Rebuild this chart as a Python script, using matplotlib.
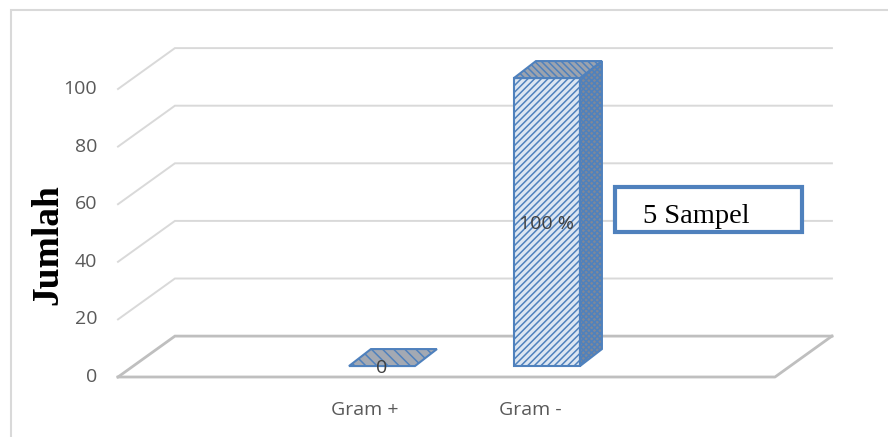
import matplotlib
matplotlib.use("Agg")
import matplotlib.pyplot as plt
from matplotlib.patches import Polygon, Rectangle

# data
categories = ["Gram +", "Gram -"]
values = [0, 100]
value_labels = ["0", "100 %"]
y_ticks = [0, 20, 40, 60, 80, 100]
note = "5 Sampel"

plt.rcParams["hatch.color"] = "#4F81BD"
plt.rcParams["hatch.linewidth"] = 1.1

fig = plt.figure(figsize=(8.88, 4.37), dpi=100)
ax = fig.add_axes([118 / 888, 60 / 437, 657 / 888, 288 / 437])
xmin, xmax = -1.6, 2.382
ax.set_xlim(xmin, xmax)
ax.set_ylim(0, 100)
ax.axis("off")

# fake 3d depth (data units)
wall_dx, wall_dy = 0.345, 14.2
bar_dx, bar_dy = 0.133, 5.9
bar_lift = 3.8
half_w = 0.2

grid_c = "#D9D9D9"
floor_c = "#BFBFBF"
blue = "#4F81BD"
tick_font = dict(fontsize=14, family="Open Sans")

# side wall + back wall gridlines
for v in y_ticks:
    c, lw = (floor_c, 2.0) if v == 0 else (grid_c, 1.4)
    ax.plot([xmin, xmin + wall_dx, xmax + wall_dx], [v, v + wall_dy, v + wall_dy],
            color=c, lw=lw, clip_on=False, zorder=1, solid_joinstyle="miter")
    ax.text(xmin - 0.127, v, str(v), ha="right", va="center", color="#595959",
            **tick_font)

# floor front edge and right side
ax.plot([xmin, xmax, xmax + wall_dx], [0, 0, wall_dy], color=floor_c, lw=2.0,
        clip_on=False, zorder=1)

# bars
for i, v in enumerate(values):
    x0, x1 = i - half_w, i + half_w
    y0, y1 = bar_lift, bar_lift + v
    top = [(x0, y1), (x1, y1), (x1 + bar_dx, y1 + bar_dy), (x0 + bar_dx, y1 + bar_dy)]
    if v > 0:
        front = [(x0, y0), (x1, y0), (x1, y1), (x0, y1)]
        side = [(x1, y0), (x1 + bar_dx, y0 + bar_dy), (x1 + bar_dx, y1 + bar_dy), (x1, y1)]
        ax.add_patch(Polygon(front, closed=True, facecolor="#DCE6F2", edgecolor=blue,
                             hatch="/////", lw=1.5, clip_on=False, zorder=3))
        ax.add_patch(Polygon(side, closed=True, facecolor="#7E8898", edgecolor=blue,
                             hatch="xxxxxx", lw=1.5, clip_on=False, zorder=3))
        ax.add_patch(Polygon(top, closed=True, facecolor="#9CA3AE", edgecolor=blue,
                             hatch="\\\\\\\\\\", lw=1.5, clip_on=False, zorder=3))
    else:
        ax.add_patch(Polygon(top, closed=True, facecolor="#A3A9B3", edgecolor=blue,
                             hatch="\\\\\\", lw=1.5, clip_on=False, zorder=3))
    ax.text(i, y0 + v / 2 - 0.6, value_labels[i], ha="center", va="center",
            color="#404040", zorder=4, **tick_font)
    ax.text(i - 0.103, -11.5, categories[i], ha="center", va="center",
            color="#595959", **tick_font)

# y axis title
fig.text(48 / 888, 1 - 245 / 437, "Jumlah", rotation=90, ha="center", va="center",
         fontsize=27, fontweight="bold", family="Liberation Serif", color="black")

# sample count box
fig.patches.append(Rectangle((615 / 888, 1 - 232 / 437), 187 / 888, 45 / 437,
                             transform=fig.transFigure, facecolor="white",
                             edgecolor=blue, lw=3, zorder=5))
fig.text(643 / 888, 1 - 223 / 437, note, ha="left", va="baseline", fontsize=20.5,
         family="Liberation Serif", color="black", zorder=6)

# chart area border
fig.patches.append(Rectangle((11 / 888, -0.1), 2, 1 - 10 / 437 + 0.1,
                             transform=fig.transFigure, fill=False,
                             edgecolor=grid_c, lw=1.5, zorder=0))

fig.savefig("out.png", dpi=100)
